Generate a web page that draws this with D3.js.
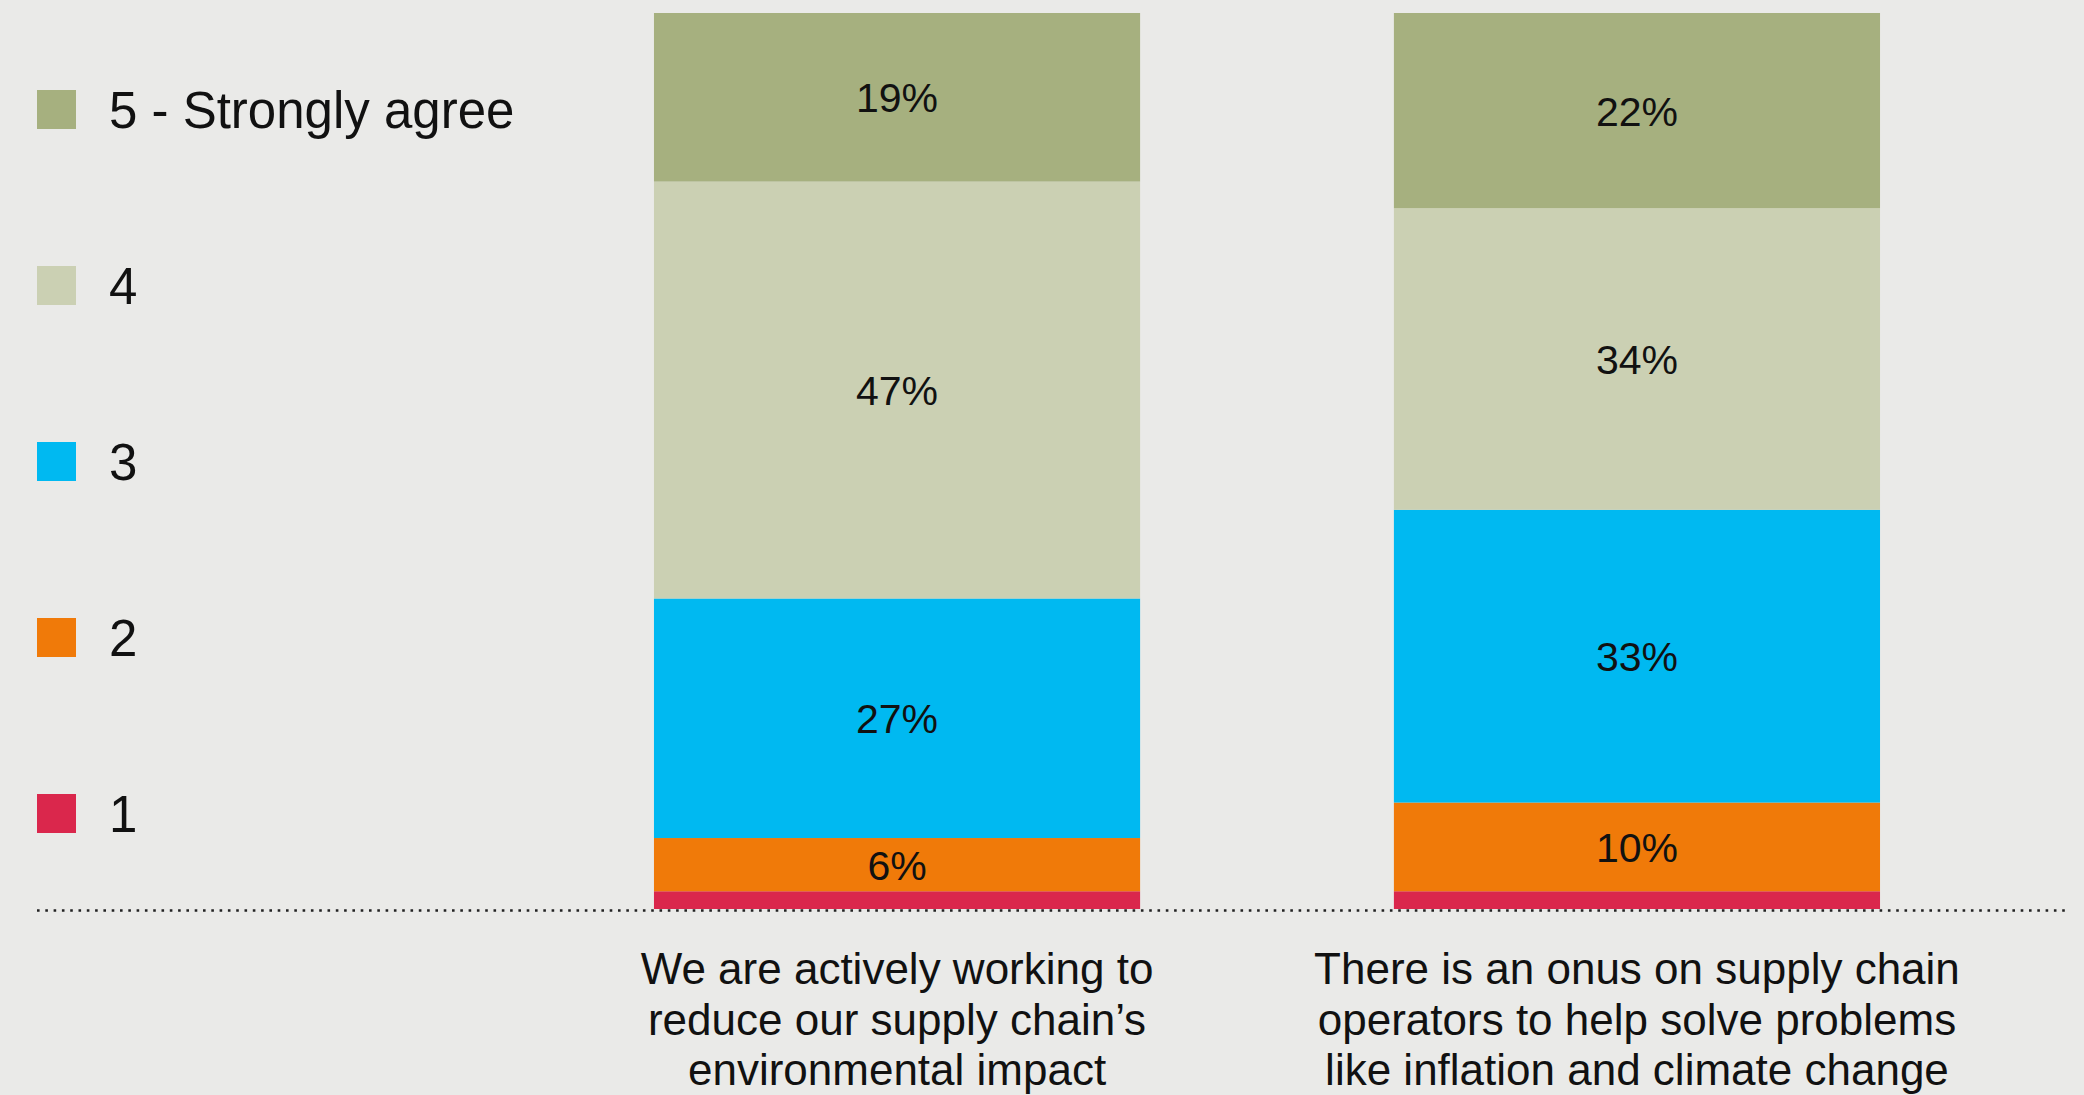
<!DOCTYPE html>
<html>
<head>
<meta charset="utf-8">
<script src="https://cdn.jsdelivr.net/npm/d3@7"></script>
<style>
  html, body { margin: 0; padding: 0; background: #eaeae8; }
  svg { display: block; }
  text { font-family: "Liberation Sans", Arial, sans-serif; fill: #111; }
</style>
</head>
<body>
<svg id="chart" width="2084" height="1095"></svg>
<script>
// Survey statements (one per bar), split into display lines
const categories = ["actively", "onus"];
const categoryLines = [
  ["We are actively working to", "reduce our supply chain\u2019s", "environmental impact"],
  ["There is an onus on supply chain", "operators to help solve problems", "like inflation and climate change"]
];

// Response levels, bottom of stack to top
const levels = ["1", "2", "3", "4", "5"];
const levelLabels = ["1", "2", "3", "4", "5 - Strongly agree"];
const levelColors = ["#da274c", "#f07a09", "#00b9f1", "#cbd0b3", "#a6b07f"];

// Share of respondents (%) per level, one entry per statement
const level1 = [2, 2];
const level2 = [6, 10];
const level3 = [27, 33];
const level4 = [47, 34];
const level5 = [19, 22];

// Which segments carry a printed value
const labelled = ["2", "3", "4", "5"];

const rows = categories.map((c, i) => ({
  category: c,
  "1": level1[i], "2": level2[i], "3": level3[i], "4": level4[i], "5": level5[i]
}));

const svg = d3.select("#chart");
const baseY = 909, topY = 13;

const x = d3.scaleBand()
  .domain(categories)
  .range([527, 2007])
  .paddingInner(0.343)
  .paddingOuter(0.1716);

const maxTotal = d3.max(rows, r => d3.sum(levels, k => r[k]));
const y = d3.scaleLinear().domain([0, maxTotal]).range([baseY, topY]);

const color = d3.scaleOrdinal().domain(levels).range(levelColors);

const stacked = d3.stack().keys(levels)(rows);

// Stacked segments
const layer = svg.append("g").selectAll("g")
  .data(stacked)
  .join("g")
  .attr("fill", d => color(d.key));

layer.selectAll("rect")
  .data(d => d.map(p => ({ key: d.key, p })))
  .join("rect")
  .attr("x", d => x(d.p.data.category))
  .attr("width", x.bandwidth())
  .attr("y", d => y(d.p[1]))
  .attr("height", d => y(d.p[0]) - y(d.p[1]));

// Values inside the segments
layer.filter(d => labelled.includes(d.key))
  .selectAll("text")
  .data(d => d.map(p => ({ key: d.key, p })))
  .join("text")
  .attr("x", d => x(d.p.data.category) + x.bandwidth() / 2)
  .attr("y", d => (y(d.p[0]) + y(d.p[1])) / 2 + 15)
  .attr("text-anchor", "middle")
  .attr("font-size", 41)
  .text(d => d.p.data[d.key] + "%");

// Dotted baseline
svg.append("line")
  .attr("x1", 37).attr("x2", 2068)
  .attr("y1", baseY + 1.5).attr("y2", baseY + 1.5)
  .attr("stroke", "#222")
  .attr("stroke-width", 2.6)
  .attr("stroke-dasharray", "2.6 5.7");

// Category labels below the baseline
const catG = svg.append("g").selectAll("text")
  .data(categories)
  .join("text")
  .attr("text-anchor", "middle")
  .attr("font-size", 44)
  .attr("transform", d => `translate(${x(d) + x.bandwidth() / 2},${baseY})`);

catG.selectAll("tspan")
  .data((d, i) => categoryLines[i])
  .join("tspan")
  .attr("x", 0)
  .attr("y", (d, j) => 75 + j * 50.5)
  .text(d => d);

// Legend, top level first
const legendOrder = levels.slice().reverse();
const legend = svg.append("g").selectAll("g")
  .data(legendOrder)
  .join("g")
  .attr("transform", (d, i) => `translate(37,${90 + i * 176})`);

legend.append("rect")
  .attr("width", 39)
  .attr("height", 39)
  .attr("fill", d => color(d));

legend.append("text")
  .attr("x", 72)
  .attr("y", 38)
  .attr("font-size", 51)
  .text(d => levelLabels[levels.indexOf(d)]);
</script>
</body>
</html>
